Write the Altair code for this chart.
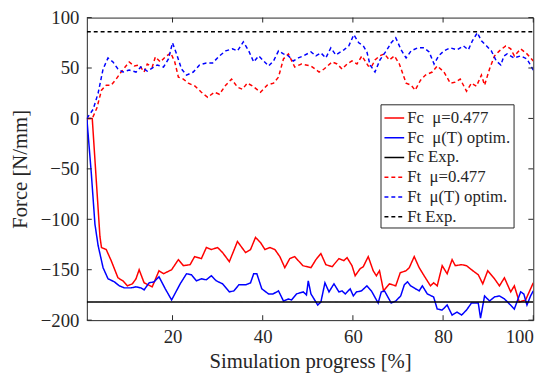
import altair as alt
import pandas as pd

# ---- data ----
fc_mu_x = [1, 2.2, 3.9, 4.25, 5.3, 6.4, 7.9, 9.0, 10.0, 11.1, 11.9, 12.6, 13.7, 15.5, 17.0, 18.0, 19.8, 21.3, 22.4, 23.9,
           24.9, 26.4, 27.5, 28.6, 30.0, 31.1, 32.6, 34.4, 36.2, 37.3, 38.4, 39.5, 40.5, 41.6, 42.7, 43.8, 44.9, 46.0, 47.1, 48.9,
           50.7, 51.8, 52.9, 54.0, 55.4, 56.9, 58.0, 58.7, 59.8, 60.5, 61.6, 62.3, 63.4, 64.5, 65.2, 65.9, 66.8, 68.1, 69.5, 70.5,
           71.8, 72.5, 73.6, 74.7, 75.8, 77.2, 77.9, 78.7, 79.8, 80.9, 82.0, 82.7, 84.1, 85.2, 86.3, 87.8, 88.8, 89.9, 91.4, 92.5,
           93.6, 95.0, 95.8, 96.9, 98.3, 100]
fc_mu_y = [0, 0, -117, -128, -130, -141, -158, -161, -166, -164, -159, -150, -163, -167, -151, -154, -150, -140, -146, -145,
           -137, -139, -128, -130, -128, -133, -142, -122, -133, -130, -118, -123, -130, -128, -130, -137, -148, -139, -137, -146,
           -148, -140, -134, -145, -147, -139, -141, -138, -146, -156, -149, -147, -137, -151, -156, -151, -171, -164, -166, -153,
           -151, -148, -137, -148, -156, -166, -163, -166, -146, -154, -140, -146, -145, -146, -150, -155, -164, -151, -159, -166,
           -158, -172, -166, -182, -180, -163]

fc_opt_x = [1, 2.0, 2.8, 3.5, 4.6, 5.7, 7.1, 8.2, 9.3, 10.8, 11.9, 13.0, 13.7, 14.8, 15.9, 17.0, 18.4, 19.8, 21.7, 23.1,
            24.2, 25.3, 26.4, 27.5, 28.6, 29.7, 31.1, 32.6, 33.6, 34.7, 36.2, 37.3, 38.0, 38.7, 39.8, 41.3, 42.3, 43.5, 44.6, 45.7,
            46.4, 47.5, 49.0, 49.7, 50.1, 50.7, 52.2, 52.9, 53.8, 54.7, 55.8, 56.9, 57.6, 58.3, 59.4, 60.1, 60.8, 61.9, 63.1, 64.1,
            65.6, 66.3, 67.0, 68.5, 69.5, 70.6, 71.4, 72.1, 72.8, 73.9, 74.7, 75.4, 76.5, 77.9, 78.7, 79.8, 80.9, 82.0, 83.1, 84.1,
            85.2, 86.3, 87.8, 88.3, 89.2, 90.3, 91.4, 92.5, 93.6, 94.3, 95.8, 97.2, 97.9, 98.6, 99.4, 100]
fc_opt_y = [0, -55, -105, -126, -148, -159, -162, -166, -168, -168, -167, -168, -170, -163, -162, -157, -169, -180, -164, -154,
            -155, -161, -159, -160, -156, -161, -164, -172, -171, -165, -165, -163, -154, -154, -169, -174, -174, -171, -181, -179,
            -180, -174, -172, -175, -161, -174, -185, -182, -163, -172, -164, -172, -171, -174, -169, -176, -172, -171, -166, -171,
            -183, -172, -171, -183, -181, -176, -165, -162, -166, -169, -171, -166, -174, -177, -189, -190, -185, -195, -192, -195,
            -190, -183, -183, -198, -176, -181, -177, -176, -179, -182, -189, -172, -174, -185, -176, -171]

ft_mu_x = [1, 2.2, 3.2, 4.25, 5.3, 6.4, 7.5, 8.6, 10.4, 11.5, 12.6, 13.7, 14.4, 15.5, 16.2, 17.3, 18.4, 19.6, 20.5, 21.3,
           22.4, 23.5, 25.0, 26.4, 27.8, 29.3, 30.4, 31.8, 33.1, 34.4, 35.5, 36.6, 37.8, 39.5, 41.0, 42.4, 43.5, 44.6, 45.7, 47.1,
           48.6, 50.7, 52.5, 53.6, 55.4, 56.5, 57.6, 58.7, 59.8, 60.9, 62.0, 63.4, 64.1, 64.9, 65.9, 67.0, 68.1, 69.2, 70.3, 71.8,
           72.9, 73.8, 75.0, 76.1, 77.6, 78.7, 80.2, 81.6, 82.7, 83.8, 85.2, 86.3, 87.4, 88.5, 89.2, 90.3, 91.4, 92.5, 93.9, 95.0,
           95.8, 97.2, 98.6, 100]
ft_mu_y = [0, 0, 10, 28, 33, 33, 39, 46, 56, 52, 53, 46, 54, 51, 61, 56, 61, 65, 56, 41,
           39, 35, 32, 26, 21, 26, 24, 33, 39, 31, 29, 35, 32, 26, 33, 35, 41, 59, 64, 51,
           54, 52, 46, 49, 56, 54, 49, 54, 57, 54, 62, 52, 51, 58, 62, 64, 58, 62, 54, 35,
           33, 28, 38, 43, 46, 52, 46, 35, 36, 39, 27, 35, 32, 43, 33, 49, 62, 67, 72, 69,
           62, 69, 64, 57]

ft_opt_x = [1, 2.4, 3.5, 4.6, 5.7, 6.8, 7.9, 9.0, 10.4, 11.9, 13.0, 14.4, 15.5, 16.6, 18.0, 19.1, 20.0, 20.9, 22.0, 23.1,
            24.6, 26.0, 27.5, 28.9, 30.4, 31.8, 33.3, 34.4, 35.7, 36.9, 38.0, 39.1, 40.2, 41.3, 42.4, 43.5, 44.6, 45.7, 46.8, 47.9,
            49.0, 50.7, 51.8, 52.9, 54.0, 55.1, 56.2, 58.0, 59.1, 60.2, 61.3, 62.3, 63.1, 63.8, 64.9, 66.0, 67.4, 68.5, 69.5, 70.7,
            71.8, 72.9, 74.4, 75.8, 76.9, 78.0, 79.0, 80.2, 81.6, 83.1, 84.5, 85.6, 86.5, 87.6, 88.5, 89.6, 90.7, 91.8, 92.8, 93.5,
            94.2, 95.7, 97.2, 98.6, 100]
ft_opt_y = [0, 9, 25, 49, 60, 56, 49, 46, 48, 46, 51, 47, 50, 53, 51, 59, 75, 64, 49, 43,
            46, 53, 55, 55, 62, 67, 69, 67, 76, 67, 56, 62, 57, 52, 57, 67, 64, 62, 57, 60,
            62, 66, 62, 65, 60, 70, 63, 68, 72, 83, 75, 72, 66, 53, 46, 58, 67, 75, 80, 68,
            60, 67, 70, 70, 66, 54, 62, 67, 70, 68, 72, 68, 77, 85, 77, 72, 67, 57, 53, 62,
            64, 60, 62, 59, 48]

exp_x = [1, 100]
fc_exp_y = [-182, -182]
ft_exp_y = [86, 86]

series_names = ["Fc\u00a0\u00a0μ=0.477", "Fc\u00a0\u00a0μ(T) optim.", "Fc Exp.",
                "Ft\u00a0\u00a0μ=0.477", "Ft\u00a0\u00a0μ(T) optim.", "Ft Exp."]
series_colors = ["#ff0000", "#0000ff", "#000000", "#ff0000", "#0000ff", "#000000"]
series_dash = [[1, 0], [1, 0], [1, 0], [4, 3], [4, 3], [4, 3]]

x_ticks = [20, 40, 60, 80, 100]
y_ticks = [-200, -150, -100, -50, 0, 50, 100]

# ---- build table ----
rows = []
for name, xs, ys in zip(series_names,
                        [fc_mu_x, fc_opt_x, exp_x, ft_mu_x, ft_opt_x, exp_x],
                        [fc_mu_y, fc_opt_y, fc_exp_y, ft_mu_y, ft_opt_y, ft_exp_y]):
    assert len(xs) == len(ys), name
    for i, (a, b) in enumerate(zip(xs, ys)):
        rows.append({"series": name, "x": a, "y": b, "i": i})
df = pd.DataFrame(rows)

W, H = 453, 307
FONT = "Liberation Serif"
TXT = "#262626"

xs = alt.Scale(domain=[1, 100], nice=False, zero=False)
ys = alt.Scale(domain=[-200, 100], nice=False, zero=False)
x_axis = alt.Axis(values=x_ticks, title="Simulation progress [%]", ticks=False, domain=False, grid=False,
                  labelPadding=8, titlePadding=4)
y_axis = alt.Axis(values=y_ticks, title="Force [N/mm]", ticks=False, domain=False, grid=False,
                  labelPadding=8, titlePadding=10)

lines = alt.Chart(df).mark_line(strokeWidth=1.5, clip=True).encode(
    x=alt.X("x:Q", scale=xs, axis=x_axis),
    y=alt.Y("y:Q", scale=ys, axis=y_axis),
    color=alt.Color("series:N", scale=alt.Scale(domain=series_names, range=series_colors),
                    legend=alt.Legend(title=None, orient="none", legendX=298, legendY=88)),
    strokeDash=alt.StrokeDash("series:N", scale=alt.Scale(domain=series_names, range=series_dash),
                              legend=alt.Legend(title=None, orient="none", legendX=298, legendY=88)),
    order="i:Q",
)

xt = pd.DataFrame({"x": x_ticks})
yt = pd.DataFrame({"y": y_ticks})
tick_style = dict(color=TXT, strokeWidth=1)
xb = alt.Chart(xt).mark_rule(**tick_style).encode(
    x=alt.X("x:Q", scale=xs, axis=x_axis), y=alt.value(H - 5), y2=alt.value(H))
xtop = alt.Chart(xt).mark_rule(**tick_style).encode(
    x=alt.X("x:Q", scale=xs, axis=x_axis), y=alt.value(0), y2=alt.value(5))
yl = alt.Chart(yt).mark_rule(**tick_style).encode(
    y=alt.Y("y:Q", scale=ys, axis=y_axis), x=alt.value(0), x2=alt.value(5))
yr = alt.Chart(yt).mark_rule(**tick_style).encode(
    y=alt.Y("y:Q", scale=ys, axis=y_axis), x=alt.value(W - 5), x2=alt.value(W))

chart = alt.layer(lines, xb, xtop, yl, yr).properties(
    width=W, height=H,
    autosize=alt.AutoSizeParams(type="none"),
    padding={"left": 80, "top": 7, "right": 19, "bottom": 57},
).configure_view(
    stroke=TXT, strokeWidth=1
).configure_axis(
    labelFont=FONT, labelFontSize=19, labelColor=TXT,
    titleFont=FONT, titleFontSize=21, titleColor=TXT, titleFontWeight="normal",
).configure_legend(
    labelFont=FONT, labelFontSize=17, labelColor=TXT,
    symbolType="stroke", symbolSize=400, symbolStrokeWidth=1.5,
    fillColor="white", strokeColor=TXT, padding=3, rowPadding=1, labelOffset=2,
    labelLimit=300,
)

chart.save("out.html", embed_options={"renderer": "svg", "actions": False})
